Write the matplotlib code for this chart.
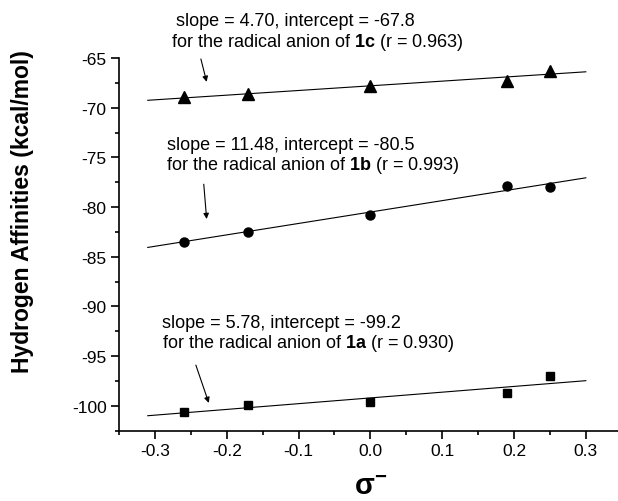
import numpy as np
import matplotlib
matplotlib.use("Agg")
import matplotlib.pyplot as plt

plt.rcParams['font.family'] = ['Liberation Sans', 'DejaVu Sans']
plt.rcParams['axes.unicode_minus'] = False
plt.rcParams['mathtext.fontset'] = 'custom'
plt.rcParams['mathtext.rm'] = 'Liberation Sans'
plt.rcParams['mathtext.it'] = 'Liberation Sans:italic'
plt.rcParams['mathtext.bf'] = 'Liberation Sans:bold'

# sigma- values of the substituents
sigma = [-0.26, -0.17, 0.0, 0.19, 0.25]

# hydrogen affinities (kcal/mol)
ha_1a = [-100.6, -99.9, -99.6, -98.7, -97.0]
ha_1b = [-83.5, -82.5, -80.8, -77.9, -78.0]
ha_1c = [-68.9, -68.6, -67.8, -67.3, -66.3]

# regression lines (slope, intercept) as given in the labels
fit_1a = (5.78, -99.2)
fit_1b = (11.48, -80.5)
fit_1c = (4.70, -67.8)
fit_range = [-0.31, 0.30]

labels = [
    ("slope = 4.70, intercept = -67.8", r"for the radical anion of $\mathbf{1c}$ (r = 0.963)"),
    ("slope = 11.48, intercept = -80.5", r"for the radical anion of $\mathbf{1b}$ (r = 0.993)"),
    ("slope = 5.78, intercept = -99.2", r"for the radical anion of $\mathbf{1a}$ (r = 0.930)"),
]

fig = plt.figure(figsize=(6.18, 5.02), dpi=100)
ax = fig.add_axes([0.1926, 0.140, 0.8134, 0.7425])

xf = np.array(fit_range)
for (m, b) in (fit_1a, fit_1b, fit_1c):
    ax.plot(xf, m * xf + b, color='black', lw=0.8)

ax.plot(sigma, ha_1c, ls='none', marker='^', ms=8, color='black')
ax.plot(sigma, ha_1b, ls='none', marker='o', ms=6.5, color='black')
ax.plot(sigma, ha_1a, ls='none', marker='s', ms=6, color='black')

# annotation texts
txt_pos = [
    ((-0.271, -61.27), (-0.278, -63.39)),
    ((-0.283, -73.67), (-0.285, -75.69)),
    ((-0.290, -91.63), (-0.290, -93.65)),
]
for (l1, l2), (p1, p2) in zip(labels, txt_pos):
    ax.text(p1[0], p1[1], l1, fontsize=13, ha='left', va='center', clip_on=False)
    ax.text(p2[0], p2[1], l2, fontsize=13, ha='left', va='center', clip_on=False)

# arrows
arrows = [
    ((-0.236, -65.1), (-0.228, -67.4)),
    ((-0.232, -77.7), (-0.228, -81.2)),
    ((-0.243, -95.9), (-0.225, -99.7)),
]
for tail, head in arrows:
    ax.annotate("", xy=head, xytext=tail, annotation_clip=False,
                arrowprops=dict(arrowstyle='-|>', color='black', lw=0.8,
                                mutation_scale=8, shrinkA=0, shrinkB=0))

ax.set_xlim(-0.35, 0.35)
ax.set_ylim(-102.5, -65)
ax.set_xticks(np.arange(-0.3, 0.31, 0.1))
ax.set_xticks(np.arange(-0.35, 0.36, 0.1), minor=True)
ax.set_xticklabels(["-0.3", "-0.2", "-0.1", "0.0", "0.1", "0.2", "0.3"])
ax.set_yticks(np.arange(-100, -64, 5))
ax.set_yticks(np.arange(-102.5, -64, 5), minor=True)

ax.spines['top'].set_visible(False)
ax.spines['right'].set_visible(False)
for s in ('left', 'bottom'):
    ax.spines[s].set_linewidth(1.2)
ax.tick_params(which='major', direction='out', length=6, width=1.2, labelsize=12.5, pad=3)
ax.tick_params(which='minor', direction='out', length=3, width=1.2)

fig.text(0.036, 0.579, "Hydrogen Affinities (kcal/mol)", rotation=90,
         fontsize=16.5, fontweight='bold', ha='center', va='center')
fig.text(0.599, 0.03, r"σ$^{\mathbf{-}}$", fontsize=21, fontweight='bold',
         ha='center', va='center')

fig.savefig("out.png", dpi=100)
